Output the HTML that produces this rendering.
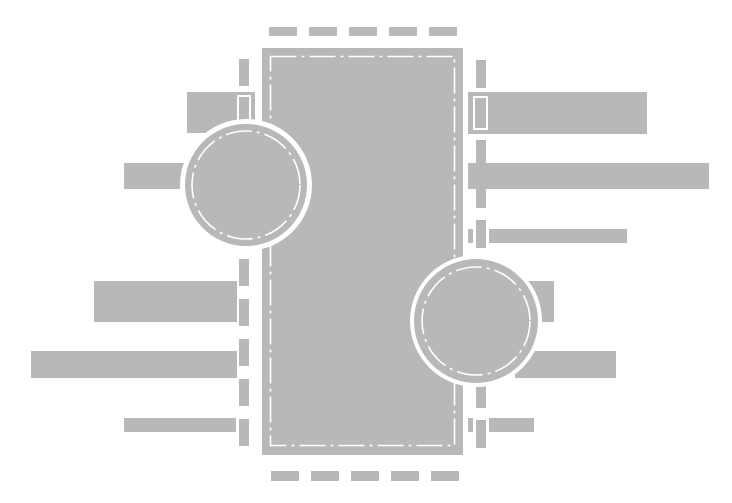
<!DOCTYPE html>
<html><head><style>html,body{margin:0;padding:0;background:#fff;width:732px;height:503px;overflow:hidden}</style></head>
<body>
<svg width="732" height="503" viewBox="0 0 732 503" xmlns="http://www.w3.org/2000/svg">
<g fill="#b8b8b8">
<!-- top/bottom dashes -->
<rect x="269" y="27" width="28" height="9"/><rect x="309" y="27" width="28" height="9"/><rect x="349" y="27" width="28" height="9"/><rect x="389" y="27" width="28" height="9"/><rect x="429" y="27" width="28" height="9"/>
<rect x="271" y="471" width="28" height="10"/><rect x="311" y="471" width="28" height="10"/><rect x="351" y="471" width="28" height="10"/><rect x="391" y="471" width="28" height="10"/><rect x="431" y="471" width="28" height="10"/>
<!-- left bars -->
<rect x="187" y="92" width="68" height="41"/>
<rect x="124" y="163" width="60" height="26"/>
<rect x="94" y="281" width="143" height="41"/>
<rect x="31" y="351" width="206" height="27"/>
<rect x="124" y="418" width="112" height="14"/>
<!-- right bars -->
<rect x="468" y="92" width="179" height="42"/>
<rect x="468" y="163" width="241" height="26"/>
<rect x="489" y="229" width="138" height="14"/><rect x="468" y="229" width="5" height="14"/>
<rect x="529" y="281" width="25" height="41"/>
<rect x="515" y="351" width="101" height="27"/>
<rect x="489" y="418" width="45" height="14"/><rect x="468" y="418" width="5" height="14"/>
<!-- main rect -->
<rect x="262" y="48" width="201" height="407"/>
</g>
<rect x="270.5" y="56.5" width="184" height="389" fill="none" stroke="#fff" stroke-width="1.6" stroke-dasharray="26 5 3 5"/>
<!-- vertical dashed lines -->
<line x1="244" y1="59" x2="244" y2="448" stroke="#b8b8b8" stroke-width="10" stroke-dasharray="27 13"/>
<line x1="481" y1="60" x2="481" y2="448" stroke="#b8b8b8" stroke-width="10" stroke-dasharray="28 12"/>
<!-- white outlines on bars crossing lines -->
<rect x="238" y="96" width="12" height="34" fill="none" stroke="#fff" stroke-width="2"/>
<rect x="474" y="97" width="13" height="32" fill="none" stroke="#fff" stroke-width="2"/>
<!-- circles -->
<circle cx="246" cy="185" r="66" fill="#fff"/>
<circle cx="246" cy="185" r="61" fill="#b8b8b8"/>
<circle cx="246" cy="185" r="54" fill="none" stroke="#fff" stroke-width="1.6" stroke-dasharray="26 5 3 5"/>
<circle cx="476" cy="321" r="66" fill="#fff"/>
<circle cx="476" cy="321" r="62" fill="#b8b8b8"/>
<circle cx="476" cy="321" r="54" fill="none" stroke="#fff" stroke-width="1.6" stroke-dasharray="26 5 3 5"/>
</svg>
</body></html>
